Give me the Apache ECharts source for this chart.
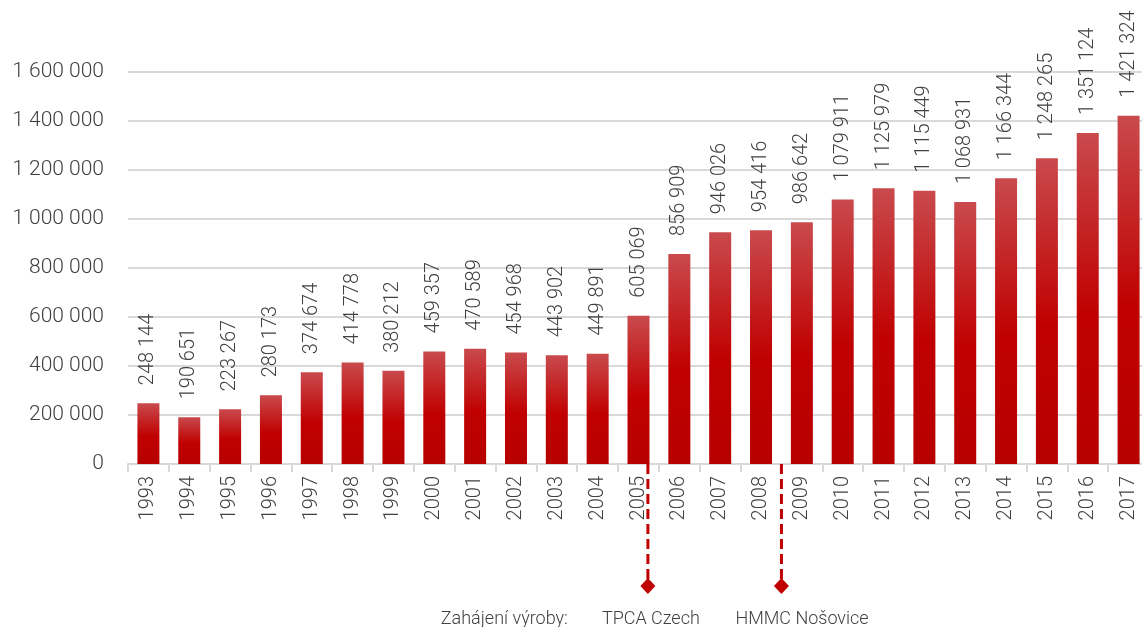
<!DOCTYPE html>
<html><head><meta charset="utf-8">
<script src="https://cdn.jsdelivr.net/npm/echarts@6/dist/echarts.min.js"></script>
<style>html,body{margin:0;padding:0;background:#fff;overflow:hidden}#c{width:1150px;height:627px}</style>
</head><body><div id="c"></div>
<script>
const years = ['1993','1994','1995','1996','1997','1998','1999','2000','2001','2002','2003','2004','2005','2006','2007','2008','2009','2010','2011','2012','2013','2014','2015','2016','2017'];
const production = [248144,190651,223267,280173,374674,414778,380212,459357,470589,454968,443902,449891,605069,856909,946026,954416,986642,1079911,1125979,1115449,1068931,1166344,1248265,1351124,1421324];
const yTicks = [0,200000,400000,600000,800000,1000000,1200000,1400000,1600000];
const annotationTitle = 'Zahájení výroby:';
const annotationYears = ['2005','2008'];
const annotationOffsets = [0.23, 0.5];
const annotationLabels = ['TPCA Czech','HMMC Nošovice'];

const fmt = v => String(v).replace(/\B(?=(\d{3})+(?!\d))/g, ' ');
const font = 'Roboto';
const textColor = '#404040';
const annData = annotationYears.map((y,i)=>({value:[years.indexOf(y), 0, annotationOffsets[i]], name:annotationLabels[i]}));

const chart = echarts.init(document.getElementById('c'));
chart.setOption({
  animation:false,
  grid:{left:128, right:1, top:72, bottom:163, containLabel:false},
  xAxis:{type:'category', data:years,
    axisLine:{lineStyle:{color:'#d9d9d9', width:2}},
    axisTick:{show:true, length:8, lineStyle:{color:'#d9d9d9', width:2}},
    axisLabel:{rotate:90, fontSize:20, fontFamily:font, fontWeight:300, color:textColor, margin:12}
  },
  yAxis:{type:'value', min:yTicks[0], max:yTicks[yTicks.length-1], interval:yTicks[1]-yTicks[0],
    axisLine:{show:false}, axisTick:{show:false},
    splitLine:{lineStyle:{color:'#d9d9d9', width:2}},
    axisLabel:{fontSize:21, fontFamily:font, fontWeight:300, color:textColor, margin:24, formatter:v=>fmt(v)}
  },
  series:[{
    type:'bar', data:production, barWidth:22,
    itemStyle:{color:new echarts.graphic.LinearGradient(0,0,0,1,[
      {offset:0,color:'#c94a4d'},{offset:0.55,color:'#c00000'},{offset:1,color:'#b70000'}])},
    label:{show:true, position:'top', rotate:90, align:'left', verticalAlign:'middle', distance:18,
      fontSize:20, fontFamily:font, fontWeight:300, color:textColor, formatter:p=>fmt(p.value)}
  },{
    type:'custom', clip:false, silent:true, data:annData,
    encode:{x:0, y:1},
    renderItem:(params, api)=>{
      const c = api.coord([api.value(0), 0]);
      const bw = api.size([1,0])[0];
      const x = c[0] + api.value(2)*bw;
      const y0 = c[1];
      const dy = 122;
      const children = [
        {type:'line', shape:{x1:x,y1:y0,x2:x,y2:y0+dy-6}, style:{stroke:'#c00000', lineWidth:3, lineDash:[10,5]}},
        {type:'polygon', shape:{points:[[x,y0+dy-8],[x+7.5,y0+dy],[x,y0+dy+8],[x-7.5,y0+dy]]}, style:{fill:'#c00000'}},
        {type:'text', x:x-46, y:y0+155, style:{text:annotationLabels[params.dataIndex], fontSize:18, fontFamily:font, fontWeight:300, fill:textColor, textAlign:'left', textVerticalAlign:'middle'}}
      ];
      if(params.dataIndex===0){
        children.push({type:'text', x:x-80, y:y0+155, style:{text:annotationTitle, fontSize:18, fontFamily:font, fontWeight:300, fill:textColor, textAlign:'right', textVerticalAlign:'middle'}});
      }
      return {type:'group', children};
    }
  }]
});
</script></body></html>
